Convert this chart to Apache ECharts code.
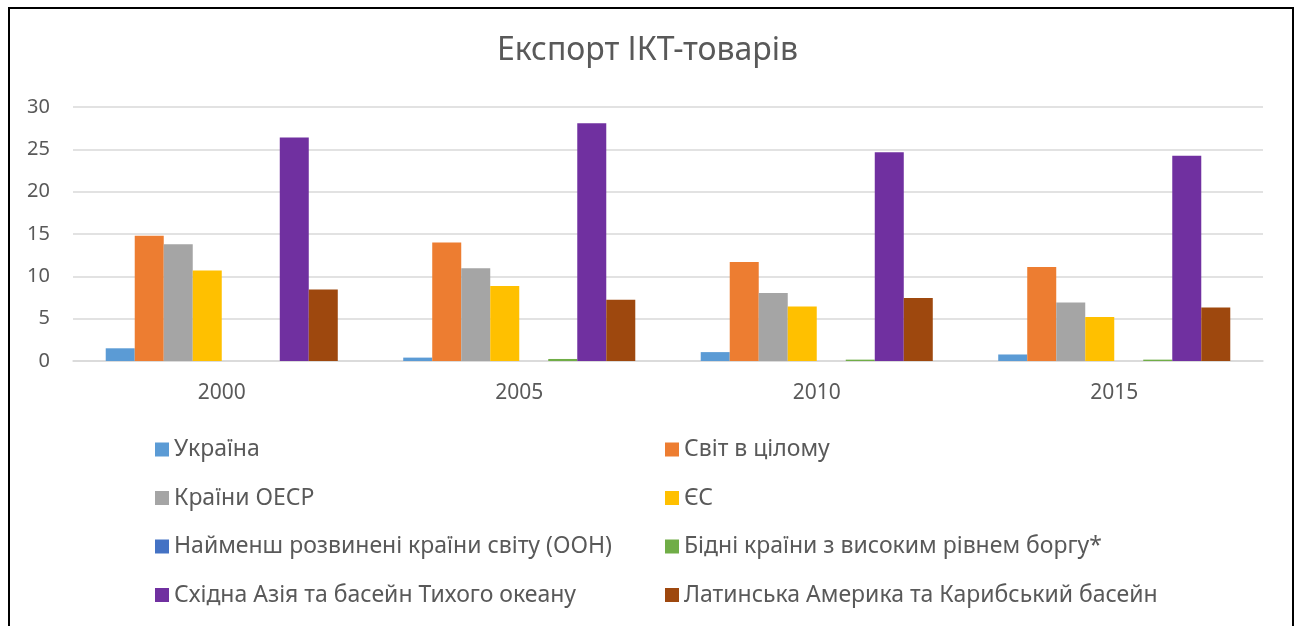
<!DOCTYPE html>
<html>
<head>
<meta charset="utf-8">
<script src="https://cdn.jsdelivr.net/npm/echarts@6/dist/echarts.min.js"></script>
<style>
  html, body { margin: 0; padding: 0; background: #fff; }
  .wrap { position: relative; width: 1295px; height: 626px; overflow: hidden; }
  .canvas { position: absolute; left: 0; top: 0; width: 1295px; height: 626px; }
  .frame {
    position: absolute; left: 8px; top: 7px; width: 1282px; height: 700px;
    border: 2px solid #000; pointer-events: none;
  }
</style>
</head>
<body>
<div class="wrap">
  <div class="canvas" id="chart"></div>
  <div class="frame"></div>
</div>
<script>
// дані
const years = ['2000', '2005', '2010', '2015'];
const ukraine = [1.5, 0.4, 1.05, 0.77];
const world = [14.8, 14.0, 11.7, 11.1];
const oecd = [13.8, 10.95, 8.04, 6.92];
const eu = [10.7, 8.86, 6.44, 5.2];
const leastDeveloped = [0, 0, 0, 0];
const poorDebt = [0, 0.24, 0.16, 0.16];
const eastAsia = [26.4, 28.07, 24.65, 24.25];
const latAm = [8.44, 7.24, 7.44, 6.32];

const seriesNames = [
  'Україна',
  'Світ в цілому',
  'Країни ОЕСР',
  'ЄС',
  'Найменш розвинені країни світу (ООН)',
  'Бідні країни з високим рівнем боргу*',
  'Східна Азія та басейн Тихого океану',
  'Латинська Америка та Карибський басейн',
];
const seriesData = [ukraine, world, oecd, eu, leastDeveloped, poorDebt, eastAsia, latAm];
const colors = ['#5B9BD5', '#ED7D31', '#A5A5A5', '#FFC000', '#4472C4', '#70AD47', '#7030A0', '#9E480E'];

const font = '"Noto Sans", "Open Sans", sans-serif';
const chart = echarts.init(document.getElementById('chart'));

const series = seriesData.map((item, index) => ({
  name: seriesNames[index],
  type: 'bar',
  data: item,
  barGap: 0,
  barCategoryGap: '22%',
  itemStyle: { color: colors[index] },
  emphasis: { disabled: true },
}));

// дві колонки легенди
const legendCommon = {
  orient: 'vertical',
  icon: 'rect',
  itemWidth: 14,
  itemHeight: 14,
  itemGap: 25.5,
  top: 433,
  height: 190,
  textStyle: { fontSize: 23, lineHeight: 22, color: '#595959', fontFamily: font },
};

const option = {
  animation: false,
  color: colors,
  title: {
    text: 'Експорт ІКТ-товарів',
    left: 'center',
    top: 30,
    textStyle: { fontSize: 32, fontWeight: 'normal', color: '#595959', fontFamily: font },
  },
  legend: [
    Object.assign({}, legendCommon, { left: 150, data: [seriesNames[0], seriesNames[2], seriesNames[4], seriesNames[6]] }),
    Object.assign({}, legendCommon, { left: 660, data: [seriesNames[1], seriesNames[3], seriesNames[5], seriesNames[7]] }),
  ],
  grid: { left: 73, right: 32, top: 107, bottom: 265, containLabel: false },
  xAxis: {
    type: 'category',
    data: years,
    axisTick: { show: false },
    axisLine: { lineStyle: { color: '#d9d9d9', width: 1.5 } },
    axisLabel: { margin: 22, fontSize: 21, color: '#595959', fontFamily: font },
  },
  yAxis: {
    type: 'value',
    min: 0,
    max: 30,
    interval: 5,
    axisLine: { show: false },
    axisTick: { show: false },
    splitLine: { lineStyle: { color: '#d9d9d9', width: 1.5 } },
    axisLabel: { margin: 23, fontSize: 20, color: '#595959', fontFamily: font },
  },
  series: series,
};
chart.setOption(option);
</script>
</body>
</html>
